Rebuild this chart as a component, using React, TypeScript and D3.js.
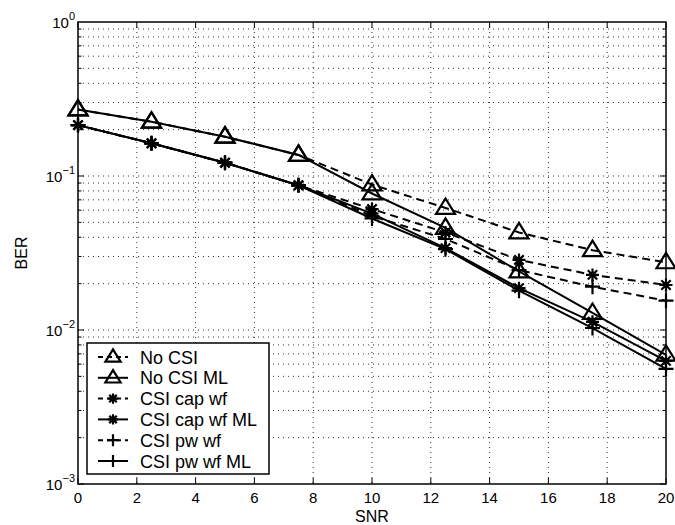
import React, { useEffect, useRef } from 'react';
import * as d3 from 'd3';

// SNR points and BER for each scheme
const snr = [0, 2.5, 5, 7.5, 10, 12.5, 15, 17.5, 20];
const noCsi = [0.27, 0.225, 0.18, 0.137, 0.088, 0.062, 0.043, 0.033, 0.0275];
const noCsiMl = [0.27, 0.225, 0.18, 0.137, 0.077, 0.046, 0.024, 0.0129, 0.0069];
const capWf = [0.214, 0.163, 0.122, 0.087, 0.061, 0.043, 0.0285, 0.0228, 0.0196];
const capWfMl = [0.214, 0.163, 0.122, 0.087, 0.057, 0.034, 0.0187, 0.0113, 0.0063];
const pwWf = [0.214, 0.163, 0.122, 0.087, 0.055, 0.039, 0.0245, 0.0191, 0.0155];
const pwWfMl = [0.214, 0.163, 0.122, 0.087, 0.053, 0.0335, 0.018, 0.0103, 0.0056];

const xTicks = [0, 2, 4, 6, 8, 10, 12, 14, 16, 18, 20];
const yExponents = [0, -1, -2, -3];

const series = [
    { name: 'No CSI', values: noCsi, marker: 'triangle', dashed: true },
    { name: 'No CSI ML', values: noCsiMl, marker: 'triangle', dashed: false },
    { name: 'CSI cap wf', values: capWf, marker: 'star', dashed: true },
    { name: 'CSI cap wf ML', values: capWfMl, marker: 'star', dashed: false },
    { name: 'CSI pw wf', values: pwWf, marker: 'plus', dashed: true },
    { name: 'CSI pw wf ML', values: pwWfMl, marker: 'plus', dashed: false },
];

const width = 675;
const height = 525;
const margin = { top: 22, right: 9, bottom: 41, left: 78 };
const font = "'Liberation Sans', Arial, Helvetica, sans-serif";

const drawMarker = (g, kind, x, y, scale = 1) => {
    if (kind === 'triangle') {
        const r = 9.5 * scale;
        g.append('path')
            .attr('d', `M${x},${y - r}L${x + r},${y + r * 0.62}L${x - r},${y + r * 0.62}Z`)
            .attr('fill', 'none')
            .attr('stroke', '#000')
            .attr('stroke-width', 2.2)
            .attr('stroke-linejoin', 'miter');
    } else if (kind === 'star') {
        const r = 6.5 * scale;
        const d = r * 0.72;
        g.append('path')
            .attr('d', `M${x - r},${y}L${x + r},${y}M${x},${y - r}L${x},${y + r}M${x - d},${y - d}L${x + d},${y + d}M${x - d},${y + d}L${x + d},${y - d}`)
            .attr('stroke', '#000')
            .attr('stroke-width', 2.2);
    } else {
        const r = 7.5 * scale;
        g.append('path')
            .attr('d', `M${x - r},${y}L${x + r},${y}M${x},${y - r}L${x},${y + r}`)
            .attr('stroke', '#000')
            .attr('stroke-width', 2.2);
    }
};

const BerChart = () => {
    const ref = useRef(null);

    useEffect(() => {
        document.body.style.margin = '0';
        document.body.style.overflow = 'hidden';

        const svg = d3.select(ref.current);
        svg.selectAll('*').remove();

        const x0 = margin.left;
        const x1 = width - margin.right;
        const y0 = margin.top;
        const y1 = height - margin.bottom;

        const xScale = d3.scaleLinear().domain([0, 20]).range([x0, x1]);
        const yScale = d3.scaleLog().domain([1e-3, 1]).range([y1, y0]);

        svg.append('rect')
            .attr('x', 0).attr('y', 0)
            .attr('width', width).attr('height', height)
            .attr('fill', '#fff');

        // grid
        const grid = svg.append('g')
            .attr('stroke', '#000')
            .attr('stroke-width', 0.8)
            .attr('stroke-dasharray', '1 4');

        xTicks.slice(1, -1).forEach(t => {
            grid.append('line')
                .attr('x1', xScale(t)).attr('x2', xScale(t))
                .attr('y1', y0).attr('y2', y1);
        });

        const yMinor = [];
        yExponents.slice(1).forEach(e => {
            for (let k = 1; k <= 9; k++) yMinor.push(k * Math.pow(10, e));
        });
        yMinor.filter(v => v > 1e-3 && v < 1).forEach(v => {
            grid.append('line')
                .attr('x1', x0).attr('x2', x1)
                .attr('y1', yScale(v)).attr('y2', yScale(v));
        });

        // ticks, inward on all sides
        const ticks = svg.append('g').attr('stroke', '#000').attr('stroke-width', 1);
        xTicks.forEach(t => {
            ticks.append('line').attr('x1', xScale(t)).attr('x2', xScale(t)).attr('y1', y1).attr('y2', y1 - 6);
            ticks.append('line').attr('x1', xScale(t)).attr('x2', xScale(t)).attr('y1', y0).attr('y2', y0 + 6);
        });
        yMinor.forEach(v => {
            const major = Math.abs(Math.log10(v) - Math.round(Math.log10(v))) < 1e-9;
            const len = major ? 6 : 3.5;
            ticks.append('line').attr('x1', x0).attr('x2', x0 + len).attr('y1', yScale(v)).attr('y2', yScale(v));
            ticks.append('line').attr('x1', x1).attr('x2', x1 - len).attr('y1', yScale(v)).attr('y2', yScale(v));
        });

        // frame
        svg.append('rect')
            .attr('x', x0).attr('y', y0)
            .attr('width', x1 - x0).attr('height', y1 - y0)
            .attr('fill', 'none')
            .attr('stroke', '#000')
            .attr('stroke-width', 1.5);

        // x tick labels
        svg.append('g').selectAll('text')
            .data(xTicks)
            .enter().append('text')
            .attr('x', d => xScale(d))
            .attr('y', y1 + 19)
            .attr('text-anchor', 'middle')
            .style('font-family', font)
            .style('font-size', '15px')
            .text(d => d);

        // y tick labels 10^e
        yExponents.forEach(e => {
            const t = svg.append('text')
                .attr('x', x0 - 3)
                .attr('y', yScale(Math.pow(10, e)) + 6)
                .attr('text-anchor', 'end')
                .style('font-family', font)
                .style('font-size', '15px');
            t.append('tspan').text('10');
            t.append('tspan')
                .attr('dy', -8)
                .style('font-size', '11px')
                .text(e === 0 ? '0' : `\u2212${-e}`);
        });

        // axis labels
        svg.append('text')
            .attr('x', xScale(10))
            .attr('y', height - 3)
            .attr('text-anchor', 'middle')
            .style('font-family', font)
            .style('font-size', '16px')
            .text('SNR');

        svg.append('text')
            .attr('transform', `translate(27,${(y0 + y1) / 2}) rotate(-90)`)
            .attr('text-anchor', 'middle')
            .style('font-family', font)
            .style('font-size', '16px')
            .text('BER');

        // series
        const line = d3.line().x((d, i) => xScale(snr[i])).y(d => yScale(d));
        const plot = svg.append('g');
        series.forEach(s => {
            plot.append('path')
                .datum(s.values)
                .attr('d', line)
                .attr('fill', 'none')
                .attr('stroke', '#000')
                .attr('stroke-width', 2)
                .attr('stroke-dasharray', s.dashed ? '8 5' : null);
            s.values.forEach((v, i) => drawMarker(plot, s.marker, xScale(snr[i]), yScale(v)));
        });

        // legend
        const lg = svg.append('g').attr('transform', 'translate(87,343)');
        lg.append('rect')
            .attr('width', 182).attr('height', 131)
            .attr('fill', '#fff')
            .attr('stroke', '#000')
            .attr('stroke-width', 1.5);
        series.forEach((s, i) => {
            const cy = 14 + i * 20.8;
            lg.append('line')
                .attr('x1', 11).attr('x2', 41)
                .attr('y1', cy).attr('y2', cy)
                .attr('stroke', '#000')
                .attr('stroke-width', 2)
                .attr('stroke-dasharray', s.dashed ? '5 4' : null);
            drawMarker(lg, s.marker, 26, cy, 0.8);
            lg.append('text')
                .attr('x', 53)
                .attr('y', cy + 6.5)
                .style('font-family', font)
                .style('font-size', '18px')
                .text(s.name);
        });
    }, []);

    return <svg ref={ref} width={width} height={height} style={{ display: 'block' }}></svg>;
};

export default function App() {
    return <BerChart />;
}
